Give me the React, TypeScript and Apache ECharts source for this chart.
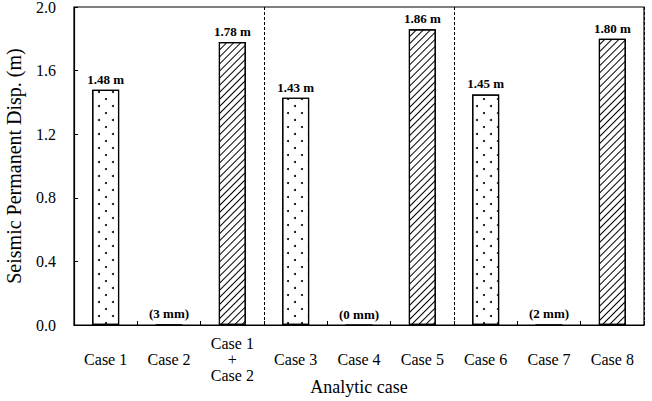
import React, { useEffect, useRef } from "react";
import * as echarts from "echarts";

const categories = [
  "Case 1",
  "Case 2",
  "Case 1\n+\nCase 2",
  "Case 3",
  "Case 4",
  "Case 5",
  "Case 6",
  "Case 7",
  "Case 8",
];
const values = [1.48, 0.003, 1.78, 1.43, 0, 1.86, 1.45, 0.002, 1.8];
const valueLabels = ["1.48 m", "(3 mm)", "1.78 m", "1.43 m", "(0 mm)", "1.86 m", "1.45 m", "(2 mm)", "1.80 m"];
const fills = ["dots", "solid", "hatch", "dots", "solid", "hatch", "dots", "solid", "hatch"];
const yTicks = { min: 0, max: 2, interval: 0.4 };

const FONT = "'Liberation Serif', 'Times New Roman', serif";

const dotDecal = {
  symbol: "circle",
  symbolSize: 1,
  color: "#000",
  dashArrayX: [
    [1.5, 11.5],
    [0, 6.5, 1.5, 5],
  ],
  dashArrayY: [1.5, 4.8],
  rotation: 0,
  maxTileWidth: 128,
  maxTileHeight: 128,
};

const hatchDecal = {
  symbol: "rect",
  symbolSize: 1,
  color: "#000",
  dashArrayX: [1, 0],
  dashArrayY: [1, 3.2],
  rotation: -Math.PI / 4,
  maxTileWidth: 128,
  maxTileHeight: 128,
};

export default function App() {
  const ref = useRef<HTMLDivElement>(null);
  useEffect(() => {
    document.body.style.margin = "0";
    if (!ref.current) return;
    const chart = echarts.init(ref.current, undefined, { renderer: "svg" });
    const data = values.map((v, i) => {
      const f = fills[i];
      const itemStyle: any = {
        color: f === "solid" ? "#000" : "#fff",
        borderColor: "#000",
        borderWidth: f === "solid" ? 0.8 : 1.2,
      };
      if (f === "dots") itemStyle.decal = dotDecal;
      if (f === "hatch") itemStyle.decal = hatchDecal;
      return { value: v, itemStyle };
    });
    chart.setOption({
      animation: false,
      backgroundColor: "#fff",
      grid: {
        left: 74,
        right: 8,
        top: 7,
        bottom: 76,
        containLabel: false,
        outerBoundsMode: "none",
        show: true,
        borderColor: "#000",
        borderWidth: 1.2,
        backgroundColor: "transparent",
      },
      xAxis: {
        type: "category",
        data: categories,
        name: "Analytic case",
        nameLocation: "middle",
        nameGap: 62,
        nameMoveOverlap: false,
        nameTextStyle: {
          fontFamily: FONT,
          fontSize: 18,
          color: "#000",
          verticalAlign: "middle",
        },
        axisLine: { show: true, lineStyle: { color: "#000", width: 1.2 } },
        axisTick: { show: true, inside: true, length: 4, lineStyle: { color: "#000" } },
        axisLabel: {
          fontFamily: FONT,
          fontSize: 16,
          color: "#000",
          lineHeight: 16,
          verticalAlign: "middle",
          margin: 34,
          interval: 0,
        },
        splitLine: {
          show: true,
          interval: (index: number) => index === 3 || index === 6,
          lineStyle: { color: "#000", type: [3, 2], width: 1 },
        },
      },
      yAxis: {
        type: "value",
        min: yTicks.min,
        max: yTicks.max,
        interval: yTicks.interval,
        name: "Seismic Permanent Disp. (m)",
        nameLocation: "middle",
        nameGap: 50,
        nameMoveOverlap: false,
        nameTextStyle: { fontFamily: FONT, fontSize: 20, color: "#000" },
        axisLine: { show: true, lineStyle: { color: "#000", width: 1.2 } },
        axisTick: { show: true, inside: true, length: 4, lineStyle: { color: "#000" } },
        axisLabel: {
          fontFamily: FONT,
          fontSize: 16,
          color: "#000",
          margin: 18,
          padding: [5, 0, 0, 0],
          formatter: (v: number) => v.toFixed(1),
        },
        splitLine: { show: false },
      },
      series: [
        {
          type: "bar",
          data,
          barWidth: 27,
          label: {
            show: true,
            position: "top",
            distance: 4,
            fontFamily: FONT,
            fontSize: 13,
            fontWeight: "bold",
            color: "#000",
            formatter: (p: any) => valueLabels[p.dataIndex],
          },
        },
      ],
    });
    return () => chart.dispose();
  }, []);
  return <div ref={ref} style={{ width: 652, height: 401 }} />;
}
